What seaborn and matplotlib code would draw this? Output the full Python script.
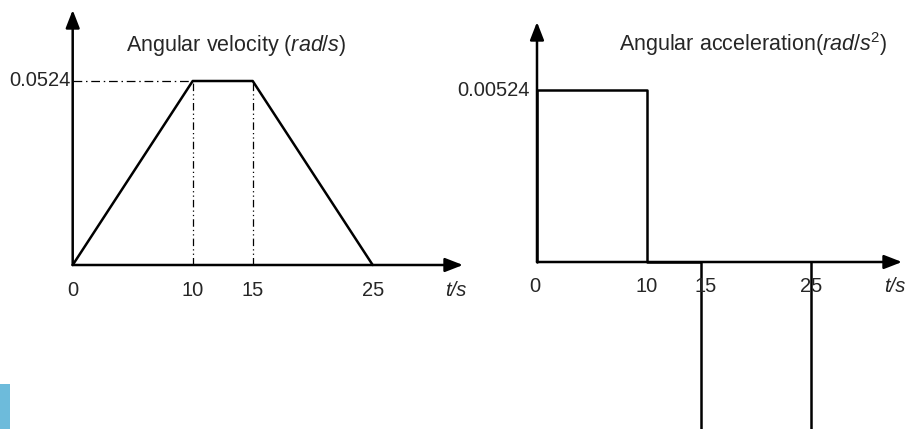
import matplotlib
matplotlib.use("Agg")
import matplotlib.pyplot as plt
import matplotlib.patches as mpatches
import seaborn as sns
import pandas as pd

sns.set_theme(style="white")
plt.rcParams["font.family"] = ["Liberation Sans", "DejaVu Sans"]
plt.rcParams["mathtext.fontset"] = "custom"
plt.rcParams["mathtext.rm"] = "Liberation Sans"
plt.rcParams["mathtext.it"] = "Liberation Sans:italic"

# --- data ---
t_vel = [0, 10, 15, 25]
omega = [0, 0.0524, 0.0524, 0]
t_acc = [0, 0, 10, 10, 15, 15, 25, 25]
alpha = [0, 0.00524, 0.00524, 0, 0, -0.00524, -0.00524, 0]
omega_max = 0.0524
alpha_max = 0.00524
vel_ticks = [0, 10, 15, 25]
acc_ticks = [0, 10, 15, 25]

W, H = 908, 429
fig = plt.figure(figsize=(W / 100, H / 100), dpi=100)


def make_ax(px_l, px_r, x0, xs, y0, ys):
    # axes box spans the full height; limits chosen so data origin sits at (x0, y0) px
    ax = fig.add_axes([px_l / W, 0, (px_r - px_l) / W, 1])
    ax.set_xlim((px_l - x0) / xs, (px_r - x0) / xs)
    ax.set_ylim((y0 - H) / ys, y0 / ys)
    ax.axis("off")
    return ax


def axis_arrows(ax, xtip, ytip):
    kw = dict(arrowstyle="-|>,head_length=0.9,head_width=0.35", color="black",
              lw=1.8, shrinkA=0, shrinkB=0)
    ax.annotate("", xy=(xtip, 0), xytext=(0, 0), arrowprops=kw, annotation_clip=False)
    ax.annotate("", xy=(0, ytip), xytext=(0, 0), arrowprops=kw, annotation_clip=False)


fs = 14.5
fs_title = 15.5
dashdot = (0, (7, 3, 1.2, 3))
dashdotdot = (0, (6, 2.5, 1, 2.5, 1, 2.5))

# --- left: angular velocity ---
ax1 = make_ax(0, 470, 72.7, 12.0, 265, 184 / omega_max)
axis_arrows(ax1, (463 - 72.7) / 12.0, (265 - 10) / (184 / omega_max))
sns.lineplot(data=pd.DataFrame({"t": t_vel, "w": omega}), x="t", y="w",
             ax=ax1, color="black", lw=1.8, sort=False, estimator=None)
ax1.plot([0, 10], [omega_max, omega_max], color="black", lw=0.9, ls=dashdot)
for tv in [10, 15]:
    ax1.plot([tv, tv], [0, omega_max], color="black", lw=0.9, ls=dashdotdot)
ax1.text(-0.2, omega_max, "0.0524", ha="right", va="center", fontsize=fs)
for tv in vel_ticks:
    ax1.text(tv, -0.0045, str(tv), ha="center", va="top", fontsize=fs)
ax1.text(31.9, -0.0045, "t/s", ha="center", va="top", fontsize=fs, style="italic")
ax1.text(13.6, 0.0626, r"Angular velocity ($\mathit{rad/s}$)", ha="center",
         va="center", fontsize=fs_title)

# --- right: angular acceleration ---
ax2 = make_ax(470, W, 537, 10.96, 262, 172 / alpha_max)
axis_arrows(ax2, (902 - 537) / 10.96, (262 - 22) / (172 / alpha_max))
sns.lineplot(data=pd.DataFrame({"t": t_acc, "a": alpha}), x="t", y="a",
             ax=ax2, color="black", lw=1.8, sort=False, estimator=None)
ax2.text(-0.7, alpha_max, "0.00524", ha="right", va="center", fontsize=fs)
for tv in acc_ticks:
    off = -0.2 if tv == 0 else 0.4 if tv == 15 else 0
    ax2.text(tv + off, -0.00045, str(tv), ha="center", va="top", fontsize=fs)
ax2.text(32.6, -0.00045, "t/s", ha="center", va="top", fontsize=fs, style="italic")
ax2.text(19.7, 0.00665, r"Angular acceleration($\mathit{rad/s}^2$)", ha="center",
         va="center", fontsize=fs_title)

# small blue strip at lower-left corner of the source image
fig.patches.append(mpatches.Rectangle((0, 0), 10 / W, 45 / H, transform=fig.transFigure,
                                      color="#6dbbdb", lw=0))

plt.savefig("out.png", dpi=100)
